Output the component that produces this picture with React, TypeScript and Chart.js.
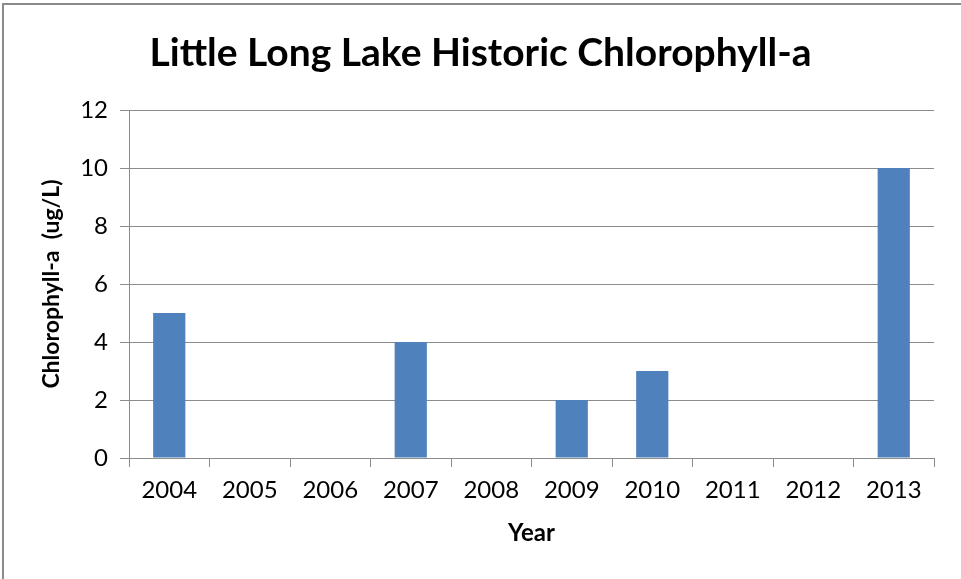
import React, { useEffect, useRef } from "react";
import { Chart, registerables } from "chart.js";

Chart.register(...registerables);

const categories = ["2004", "2005", "2006", "2007", "2008", "2009", "2010", "2011", "2012", "2013"];
const chlorophyll: (number | null)[] = [5, null, null, 4, null, 2, 3, null, null, 10];
const yTicks = [0, 2, 4, 6, 8, 10, 12];

const titleText = "Little Long Lake Historic Chlorophyll-a";
const xTitle = "Year";
const yTitle = "Chlorophyll-a  (ug/L)";

const FONT = "Lato";
const AXIS_GRAY = "#8c8c8c";

export default function App() {
  const ref = useRef<HTMLCanvasElement | null>(null);

  useEffect(() => {
    document.body.style.margin = "0";
    const canvas = ref.current;
    if (!canvas) return;
    const chart = new Chart(canvas, {
      type: "bar",
      data: {
        labels: categories,
        datasets: [
          {
            label: "Chlorophyll-a",
            data: chlorophyll,
            backgroundColor: "#4F81BD",
            borderWidth: 0,
            barPercentage: 0.4,
            categoryPercentage: 1,
          },
        ],
      },
      options: {
        responsive: false,
        animation: false,
        layout: { padding: { left: 0, right: 0, top: 0, bottom: 0 } },
        plugins: {
          legend: { display: false },
          tooltip: { enabled: false },
          title: {
            display: true,
            text: titleText,
            color: "#000",
            font: { family: FONT, size: 39, weight: "bold", lineHeight: 1.2 },
            padding: { top: 30, bottom: 33.2 },
          },
        },
        scales: {
          x: {
            type: "category",
            offset: true,
            grid: {
              offset: true,
              drawOnChartArea: false,
              drawTicks: true,
              tickLength: 9,
              color: AXIS_GRAY,
            },
            border: { display: true, color: AXIS_GRAY, width: 1 },
            ticks: {
              color: "#000",
              font: { family: FONT, size: 24 },
              padding: 9,
              maxRotation: 0,
              autoSkip: false,
            },
            title: {
              display: true,
              text: xTitle,
              color: "#000",
              font: { family: FONT, size: 24, weight: "bold", lineHeight: 1.2 },
              padding: { top: 0, bottom: 31 },
            },
            afterFit: (scale: any) => {
              scale.height = 121;
            },
          },
          y: {
            min: 0,
            max: 12,
            afterBuildTicks: (scale: any) => {
              scale.ticks = yTicks.map((v) => ({ value: v }));
            },
            grid: {
              drawTicks: true,
              tickLength: 9,
              color: AXIS_GRAY,
            },
            border: { display: true, color: AXIS_GRAY, width: 1 },
            ticks: {
              color: "#000",
              font: { family: FONT, size: 24 },
              padding: 12,
            },
            title: {
              display: true,
              text: yTitle,
              color: "#000",
              font: { family: FONT, size: 23, weight: "bold", lineHeight: 1.2 },
              padding: { top: 38, bottom: 0 },
            },
            afterFit: (scale: any) => {
              scale.width = 129;
            },
          },
          yRightSpacer: {
            type: "linear",
            position: "right",
            display: true,
            min: 0,
            max: 12,
            grid: { display: false, drawTicks: false },
            border: { display: false },
            ticks: { display: false },
            afterFit: (scale: any) => {
              scale.width = 27;
            },
          },
        },
      },
    });
    return () => chart.destroy();
  }, []);

  return (
    <div style={{ position: "relative", width: 961, height: 579, background: "#fff", overflow: "hidden" }}>
      <canvas ref={ref} width={961} height={579} style={{ display: "block" }} />
      <div
        style={{
          position: "absolute",
          left: 2,
          top: 3,
          width: 1000,
          height: 1000,
          borderTop: "2px solid #8a8a8a",
          borderLeft: "2px solid #8a8a8a",
          pointerEvents: "none",
        }}
      />
    </div>
  );
}
